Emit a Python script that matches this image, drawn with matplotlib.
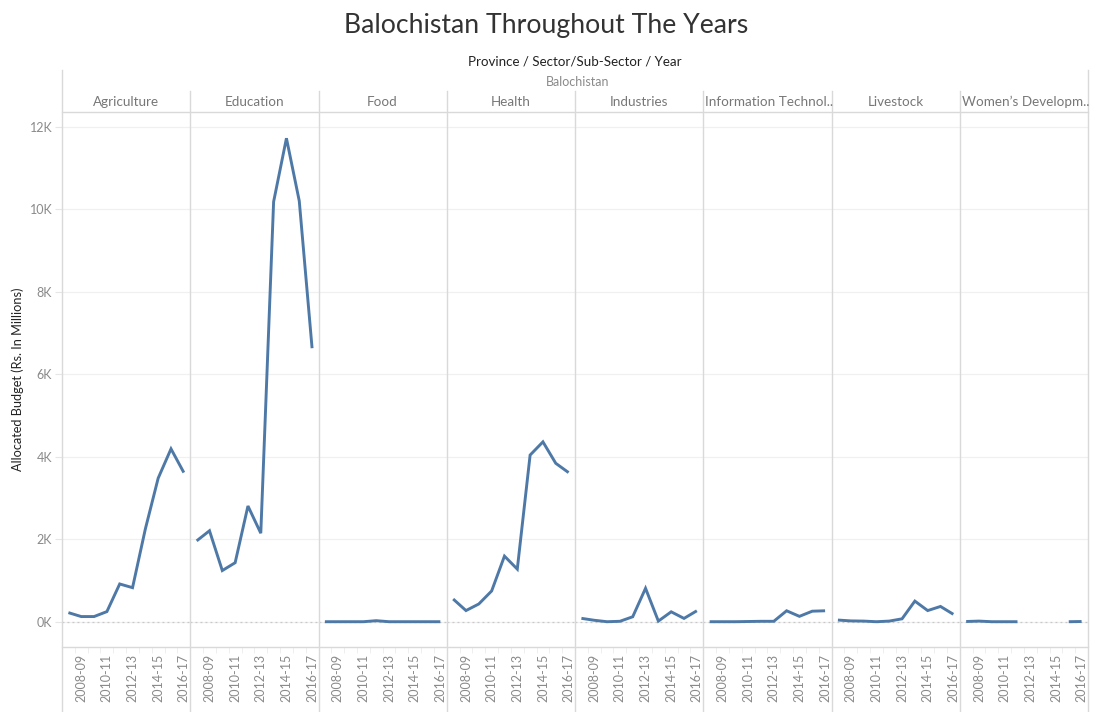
import numpy as np
import matplotlib
matplotlib.use("Agg")
import matplotlib.pyplot as plt
from matplotlib.lines import Line2D
from matplotlib.ticker import FuncFormatter

# ---------- data -------------------------------------------------------------
years = ["2007-08", "2008-09", "2009-10", "2010-11", "2011-12",
         "2012-13", "2013-14", "2014-15", "2015-16", "2016-17"]

sectors = ["Agriculture", "Education", "Food", "Health", "Industries",
           "Information Technol..", "Livestock", "Women\u2019s Developm.."]

agriculture = [220, 125, 125, 245, 915, 825, 2250, 3480, 4190, 3615]
education   = [1960, 2205, 1240, 1430, 2805, 2145, 10180, 11720, 10200, 6630]
food        = [0, 0, 0, 0, 25, 0, 0, 0, 0, 0]
health      = [550, 270, 430, 745, 1590, 1275, 4040, 4360, 3840, 3615]
industries  = [82, 35, 0, 10, 120, 810, 15, 240, 80, 265]
info_tech   = [0, 0, 0, 5, 10, 10, 265, 130, 255, 265]
livestock   = [40, 20, 15, 0, 15, 70, 500, 270, 370, 180]
womens_dev  = [5, 15, 0, 0, 0, np.nan, np.nan, np.nan, 0, 5]

series = [agriculture, education, food, health, industries,
          info_tech, livestock, womens_dev]

# ---------- layout (pixels) --------------------------------------------------
W, H = 1094, 712
LEFT, RIGHT = 62, 1088
TOP_PLOT, BOT_PLOT = 112, 647
LINE_COL = "#4e79a7"
SEP = "#d9d9d9"
FONT = ["Lato", "DejaVu Sans"]

plt.rcParams["font.family"] = FONT

fig = plt.figure(figsize=(W / 100, H / 100), dpi=100)

def fx(x): return x / W
def fy(y): return 1 - y / H

def hline(y, x0, x1, **kw):
    fig.add_artist(Line2D([fx(x0), fx(x1)], [fy(y), fy(y)],
                          transform=fig.transFigure, **kw))

def vline(x, y0, y1, **kw):
    fig.add_artist(Line2D([fx(x), fx(x)], [fy(y0), fy(y1)],
                          transform=fig.transFigure, **kw))

# ── titles / headers ─────────────────────────────────────────────────────────
fig.text(fx(546), fy(25), "Balochistan Throughout The Years", ha="center",
         va="center", fontsize=19.2, color="#333333")
fig.text(fx(575), fy(62), "Province / Sector/Sub-Sector / Year",
         ha="center", va="center", fontsize=9.6, color="#222222")
fig.text(fx(578), fy(82), "Balochistan", ha="center", va="center",
         fontsize=9, color="#8a8a8a")

n = len(sectors)
pw = (RIGHT - LEFT) / n
ymin, ymax = -613, 12356

for i, (name, vals) in enumerate(zip(sectors, series)):
    x0 = LEFT + i * pw
    ax = fig.add_axes([fx(x0), fy(BOT_PLOT), pw / W, (BOT_PLOT - TOP_PLOT) / H])
    ax.set_xlim(-0.5, len(years) - 0.5)
    ax.set_ylim(ymin, ymax)
    for s in ax.spines.values():
        s.set_visible(False)
    ax.set_yticks(range(0, 12001, 2000))
    ax.grid(axis="y", color="#f0f0f0", lw=0.9)
    ax.set_axisbelow(True)
    ax.axhline(0, color="#c8c8c8", lw=0.9, ls=(0, (1.5, 2.5)))
    ax.plot(range(len(years)), vals, color=LINE_COL, lw=2.1,
            solid_capstyle="butt", solid_joinstyle="miter")
    ax.set_xticks(range(1, len(years), 2))
    ax.set_xticklabels(years[1::2], rotation=90, fontsize=9, color="#8a8a8a")
    ax.set_xticks(np.arange(0.5, len(years) - 1, 1), minor=True)
    ax.tick_params(axis="x", which="major", length=0, pad=5)
    ax.tick_params(axis="x", which="minor", length=4, color="#ececec")
    if i == 0:
        ax.yaxis.set_major_formatter(FuncFormatter(lambda v, p: f"{int(v/1000)}K"))
        ax.tick_params(axis="y", length=5, color="#e6e6e6", labelsize=9,
                       labelcolor="#8a8a8a", pad=2)
        ax.set_ylabel("Allocated Budget (Rs. In Millions)", fontsize=9.2,
                      color="#222222", labelpad=4)
    else:
        ax.tick_params(axis="y", length=0, labelleft=False)

    # panel header
    if name.endswith(".."):
        fig.text(fx(x0 + 2), fy(102), name, ha="left", va="center",
                 fontsize=9.7, color="#777777")
    else:
        fig.text(fx(x0 + pw / 2), fy(102), name, ha="center", va="center",
                 fontsize=9.7, color="#777777")
    if i > 0:
        vline(x0, 91, H, color=SEP, lw=1.0)

# ── frame lines ──────────────────────────────────────────────────────────────
vline(LEFT, 70, H, color=SEP, lw=1.0)
vline(RIGHT, 70, H, color=SEP, lw=1.0)
hline(TOP_PLOT, LEFT, RIGHT, color=SEP, lw=1.0)
hline(BOT_PLOT, LEFT, RIGHT, color=SEP, lw=1.0)

fig.savefig("out.png", dpi=100)
